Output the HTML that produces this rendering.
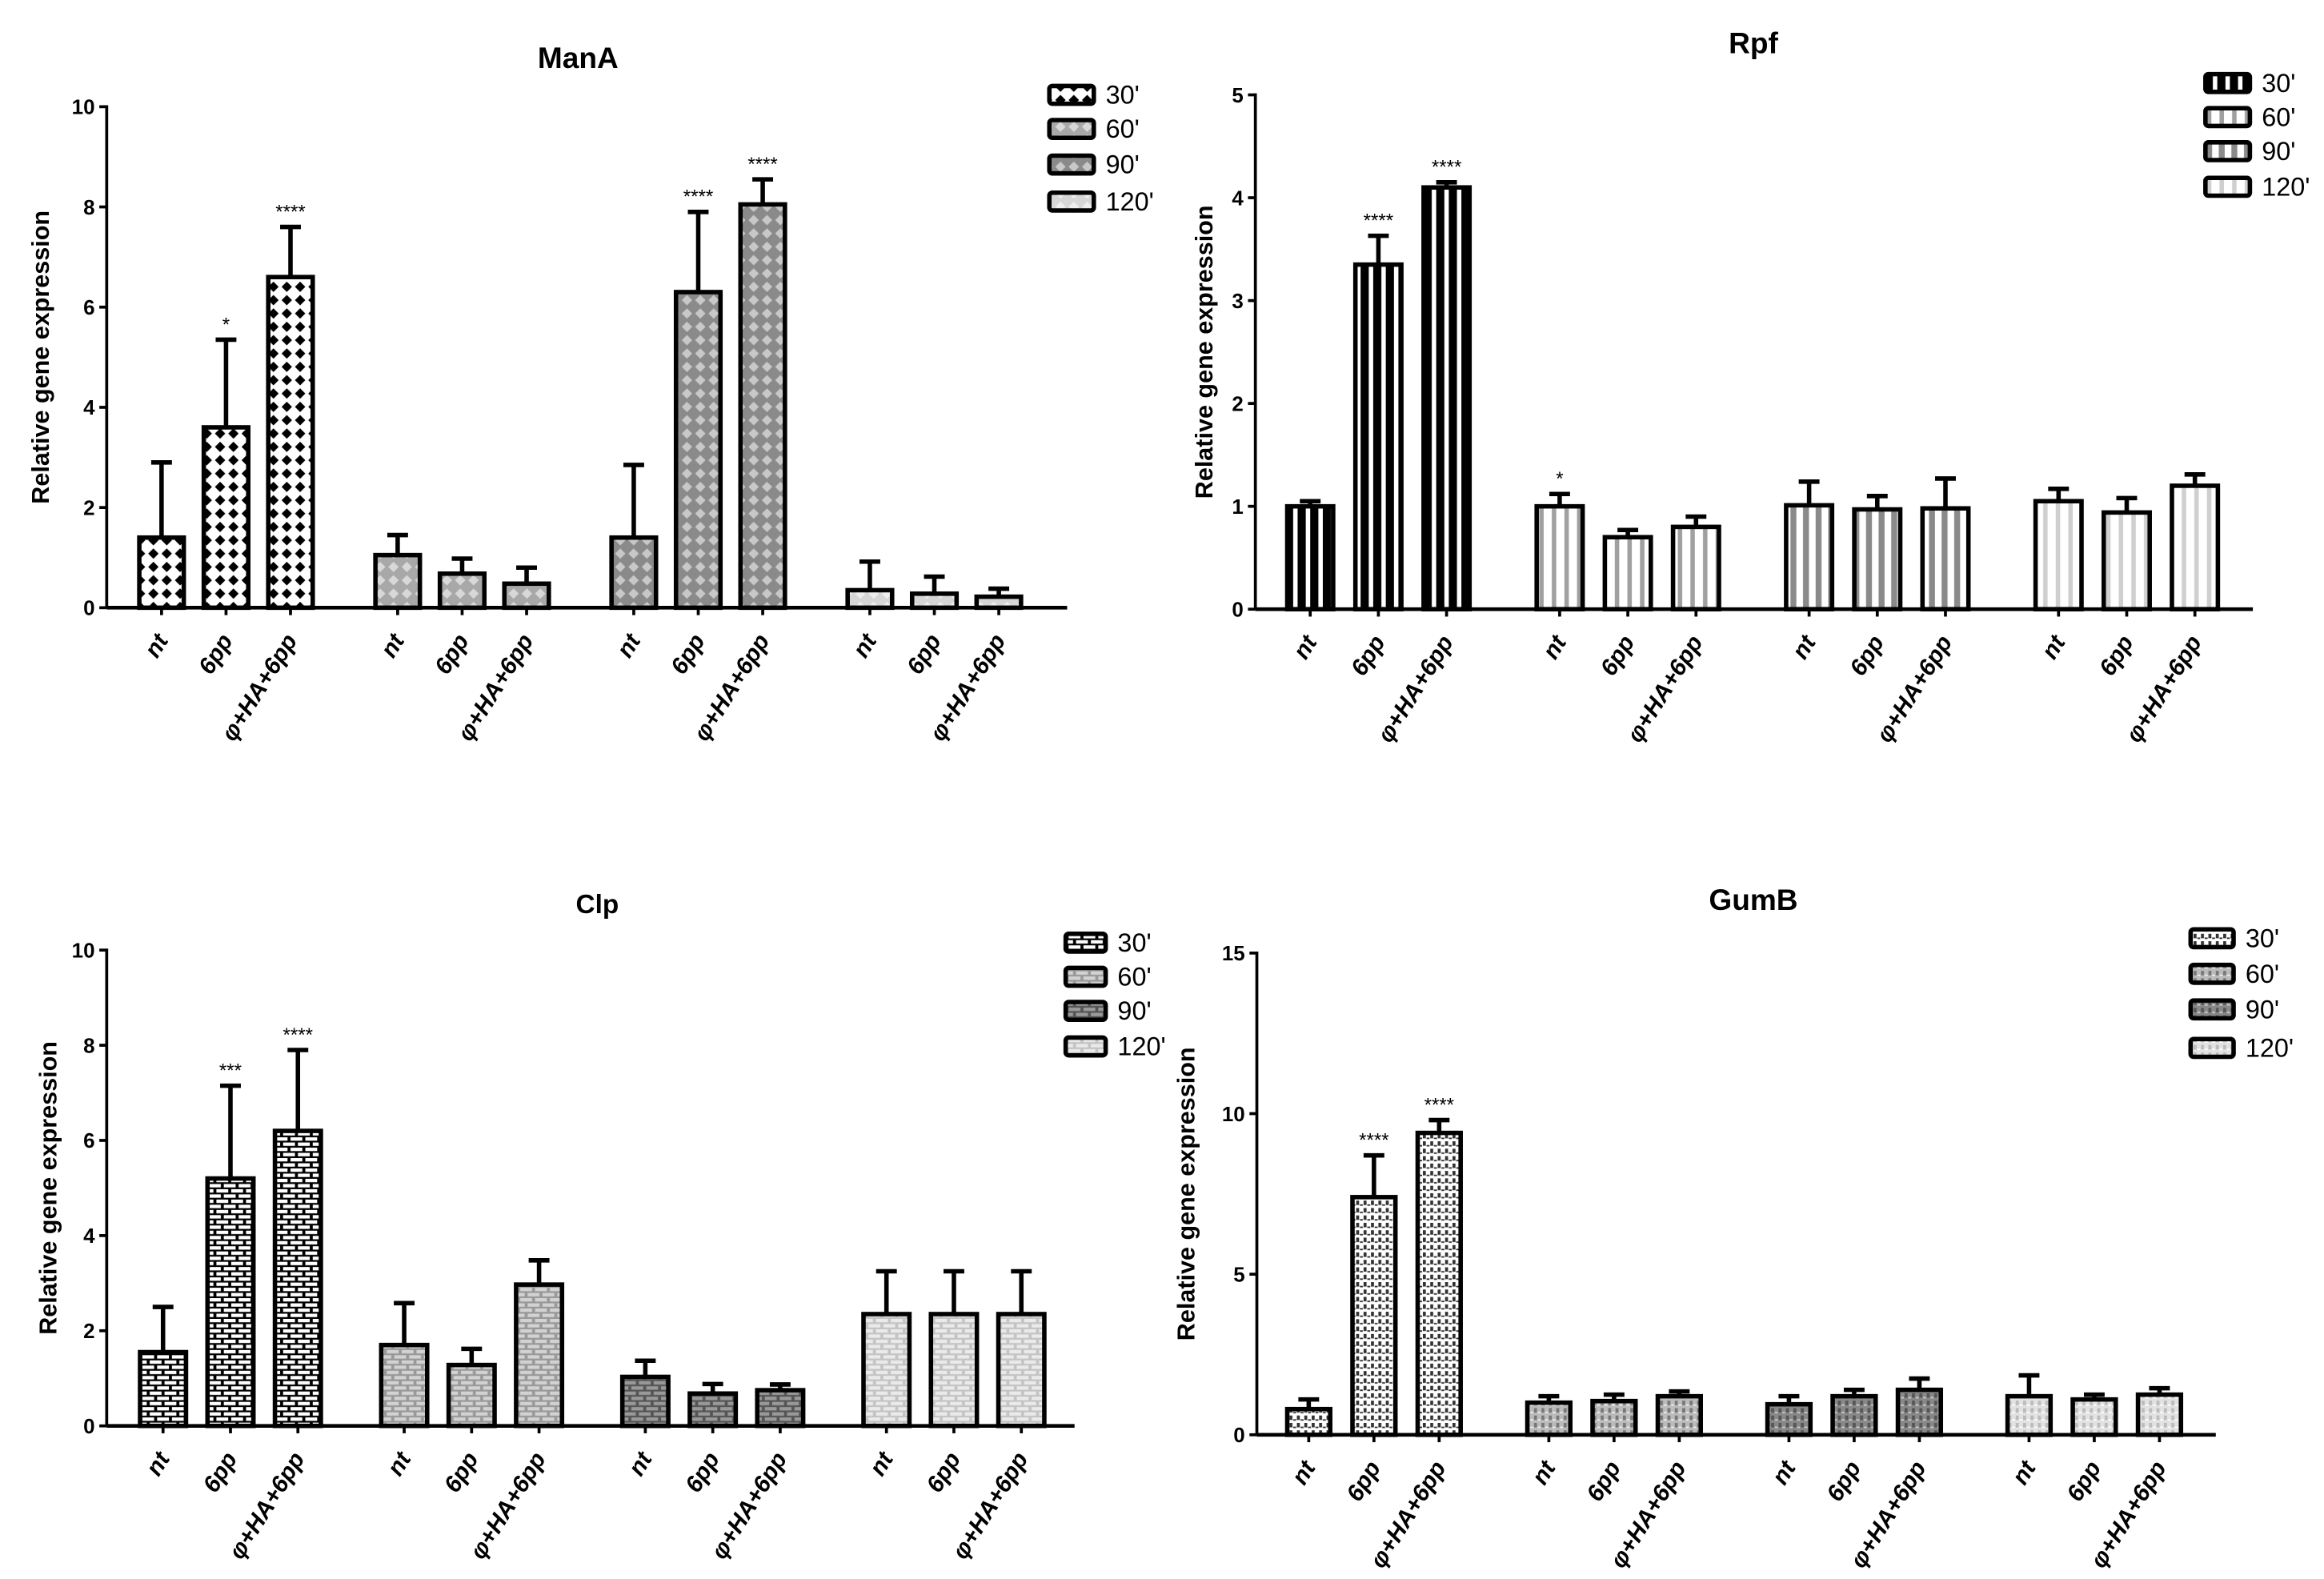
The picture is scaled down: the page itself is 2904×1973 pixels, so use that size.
<!DOCTYPE html>
<html><head><meta charset="utf-8"><style>
html,body{margin:0;padding:0;background:#fff;}
svg{display:block;}
text{font-family:"Liberation Sans",Arial,sans-serif;}
</style></head><body>
<svg id="fig" width="2904" height="1973" viewBox="0 0 1568 1065.3" preserveAspectRatio="none" xmlns="http://www.w3.org/2000/svg">
<defs>
 <pattern id="pDiaW" width="9" height="9" patternUnits="userSpaceOnUse"><rect width="9" height="9" fill="#fff"/><path d="M4.5 1 L8 4.5 L4.5 8 L1 4.5Z" fill="#000"/></pattern>
 <pattern id="pDiaL" width="9" height="9" patternUnits="userSpaceOnUse"><rect width="9" height="9" fill="#a8a8a8"/><path d="M4.5 1 L8 4.5 L4.5 8 L1 4.5Z" fill="#d8d8d8"/></pattern>
 <pattern id="pDiaM" width="9" height="9" patternUnits="userSpaceOnUse"><rect width="9" height="9" fill="#8a8a8a"/><path d="M4.5 1 L8 4.5 L4.5 8 L1 4.5Z" fill="#c8c8c8"/></pattern>
 <pattern id="pDiaX" width="9" height="9" patternUnits="userSpaceOnUse"><rect width="9" height="9" fill="#d6d6d6"/><path d="M4.5 1 L8 4.5 L4.5 8 L1 4.5Z" fill="#eee"/></pattern>
 <pattern id="pStrB" width="8.5" height="8" patternUnits="userSpaceOnUse"><rect width="8.5" height="8" fill="#000"/><rect x="5.5" width="3" height="8" fill="#fff"/></pattern>
 <pattern id="pStrL" width="8.5" height="8" patternUnits="userSpaceOnUse"><rect width="8.5" height="8" fill="#fff"/><rect x="1.5" width="3" height="8" fill="#a0a0a0"/></pattern>
 <pattern id="pStrM" width="8.5" height="8" patternUnits="userSpaceOnUse"><rect width="8.5" height="8" fill="#fff"/><rect x="1" width="4" height="8" fill="#8a8a8a"/></pattern>
 <pattern id="pStrX" width="8.5" height="8" patternUnits="userSpaceOnUse"><rect width="8.5" height="8" fill="#fff"/><rect x="1.5" width="3" height="8" fill="#cfcfcf"/></pattern>
 <pattern id="pBrW" width="10" height="7" patternUnits="userSpaceOnUse"><rect width="10" height="7" fill="#000"/><rect x="1" y="0.8" width="8" height="2.3" fill="#fff"/><rect x="-4" y="4.3" width="8" height="2.3" fill="#fff"/><rect x="6" y="4.3" width="8" height="2.3" fill="#fff"/></pattern>
 <pattern id="pBrL" width="10" height="7" patternUnits="userSpaceOnUse"><rect width="10" height="7" fill="#999"/><rect x="1" y="0.8" width="8" height="2.3" fill="#d2d2d2"/><rect x="-4" y="4.3" width="8" height="2.3" fill="#d2d2d2"/><rect x="6" y="4.3" width="8" height="2.3" fill="#d2d2d2"/></pattern>
 <pattern id="pBrM" width="10" height="7" patternUnits="userSpaceOnUse"><rect width="10" height="7" fill="#555"/><rect x="1" y="0.8" width="8" height="2.3" fill="#999"/><rect x="-4" y="4.3" width="8" height="2.3" fill="#999"/><rect x="6" y="4.3" width="8" height="2.3" fill="#999"/></pattern>
 <pattern id="pBrX" width="10" height="7" patternUnits="userSpaceOnUse"><rect width="10" height="7" fill="#c4c4c4"/><rect x="1" y="0.8" width="8" height="2.3" fill="#eaeaea"/><rect x="-4" y="4.3" width="8" height="2.3" fill="#eaeaea"/><rect x="6" y="4.3" width="8" height="2.3" fill="#eaeaea"/></pattern>
 <pattern id="pDotW" width="5" height="5" patternUnits="userSpaceOnUse"><rect width="5" height="5" fill="#fff"/><rect x="0" y="0" width="2" height="3" fill="#333"/><rect x="2.5" y="2.5" width="2" height="1" fill="#333"/></pattern>
 <pattern id="pDotL" width="5" height="5" patternUnits="userSpaceOnUse"><rect width="5" height="5" fill="#bbb"/><rect x="0" y="0" width="2" height="3" fill="#777"/><rect x="2.5" y="2.5" width="2" height="1" fill="#eee"/></pattern>
 <pattern id="pDotM" width="5" height="5" patternUnits="userSpaceOnUse"><rect width="5" height="5" fill="#888"/><rect x="0" y="0" width="2" height="3" fill="#555"/><rect x="2.5" y="2.5" width="2" height="1" fill="#ccc"/></pattern>
 <pattern id="pDotX" width="5" height="5" patternUnits="userSpaceOnUse"><rect width="5" height="5" fill="#e2e2e2"/><rect x="0" y="0" width="2" height="3" fill="#bbb"/><rect x="2.5" y="2.5" width="2" height="1" fill="#fff"/></pattern>
</defs>
</svg>
<script>
const NS="http://www.w3.org/2000/svg";
const svg=document.getElementById('fig');
const conditions=["nt","6pp","\u03c6+HA+6pp"];
const timepoints=["30'","60'","90'","120'"];

const manaValues=[1.4,3.6,6.6, 1.05,0.68,0.48, 1.4,6.3,8.05, 0.35,0.28,0.22];
const manaErrTop=[2.9,5.35,7.6, 1.45,0.98,0.8, 2.85,7.9,8.55, 0.92,0.62,0.38];
const manaSig=["","*","****", "","","", "","****","****", "","",""];
const manaTicks=[0,2,4,6,8,10];

const rpfValues=[1.0,3.35,4.1, 1.0,0.7,0.8, 1.01,0.97,0.98, 1.05,0.94,1.2];
const rpfErrTop=[1.05,3.63,4.15, 1.12,0.77,0.9, 1.24,1.1,1.27, 1.17,1.08,1.31];
const rpfSig=["","****","****", "*","","", "","","", "","",""];
const rpfTicks=[0,1,2,3,4,5];

const clpValues=[1.55,5.2,6.2, 1.7,1.28,2.97, 1.03,0.68,0.75, 2.35,2.35,2.35];
const clpErrTop=[2.5,7.15,7.9, 2.58,1.62,3.48, 1.37,0.88,0.87, 3.25,3.25,3.25];
const clpSig=["","***","****", "","","", "","","", "","",""];
const clpTicks=[0,2,4,6,8,10];

const gumbValues=[0.8,7.4,9.4, 1.0,1.05,1.2, 0.95,1.2,1.4, 1.2,1.1,1.25];
const gumbErrTop=[1.1,8.7,9.8, 1.2,1.25,1.35, 1.2,1.4,1.75, 1.85,1.25,1.45];
const gumbSig=["","****","****", "","","", "","","", "","",""];
const gumbTicks=[0,5,10,15];

function el(tag,attrs,parent,txt){const e=document.createElementNS(NS,tag);for(const k in attrs)e.setAttribute(k,attrs[k]);if(txt!==undefined)e.textContent=txt;(parent||svg).appendChild(e);return e;}

function panel(cfg){
 const g=el('g',{});
 
 
 const ymax=cfg.ticks[cfg.ticks.length-1];
 const Y=v=>cfg.y0-(v/ymax)*(cfg.y0-cfg.yTop);
 const X=i=>cfg.x1+Math.floor(i/3)*cfg.gStep+(i%3)*cfg.bStep;
 const t=el('text',{x:cfg.titleX,y:cfg.titleY,'text-anchor':'middle','font-size':cfg.titleSize||20,'font-weight':'bold'},g,cfg.title);
 
 
 const yt=el('text',{transform:`translate(${cfg.ytX},${(cfg.y0+cfg.yTop)/2}) rotate(-90)`,'text-anchor':'middle','font-size':16.5,'font-weight':'bold'},g,'Relative gene expression');
 
 
 const ya=el('line',{x1:cfg.ax,y1:cfg.yTop-1,x2:cfg.ax,y2:cfg.y0,stroke:'#000','stroke-width':2},g);
 
 
 cfg.ticks.forEach(v=>{
  el('line',{x1:cfg.ax-5,y1:Y(v),x2:cfg.ax,y2:Y(v),stroke:'#000','stroke-width':2},g);
  const tl=el('text',{x:cfg.ax-8,y:Y(v)+5,'text-anchor':'end','font-size':14,'font-weight':'bold'},g,String(v));
  
  
 });
 cfg.values.forEach((v,i)=>{
  const cx=X(i),w=cfg.bw,grp=Math.floor(i/3);
  const top=cfg.errTop[i];
  el('line',{x1:cx,y1:Y(v),x2:cx,y2:Y(top),stroke:'#000','stroke-width':3},g);
  el('line',{x1:cx-7,y1:Y(top),x2:cx+7,y2:Y(top),stroke:'#000','stroke-width':3},g);
  const r=el('rect',{x:cx-w/2,y:Y(v),width:w,height:cfg.y0-Y(v),fill:`url(#${cfg.fills[grp]})`,stroke:'#000','stroke-width':3},g);
  
  
  if(cfg.sig[i]){
   const s=el('text',{x:cx,y:Y(top)-6,'text-anchor':'middle','font-size':13},g,cfg.sig[i]);
   
   
  }
  el('line',{x1:cx,y1:cfg.y0,x2:cx,y2:cfg.y0+5,stroke:'#000','stroke-width':2},g);
  const xl=el('text',{transform:`translate(${cx+5},${cfg.y0+22}) rotate(-58)`,'text-anchor':'end','font-size':16,'font-weight':'bold','font-style':'italic'},g,conditions[i%3]);
  
  
 });
 const xa=el('line',{x1:cfg.ax,y1:cfg.y0,x2:cfg.xEnd,y2:cfg.y0,stroke:'#000','stroke-width':2.5},g);
 
 
 timepoints.forEach((tp,k)=>{
  const ly=cfg.legY[k];
  const lg=el('g',{},g);
  
  
  el('rect',{x:cfg.legX,y:ly-6,width:cfg.legW,height:12,rx:2,fill:`url(#${cfg.fills[k]})`,stroke:'#000','stroke-width':3},lg);
  el('text',{x:cfg.legX+cfg.legW+8,y:ly+6,'font-size':17.5},lg,tp);
 });
}

panel({id:'mana',title:'ManA',titleX:390,titleY:46,ytX:33,ax:72,yTop:72,y0:410,xEnd:720,x1:109,bStep:43.5,gStep:159.3,bw:30,
 values:manaValues,errTop:manaErrTop,sig:manaSig,ticks:manaTicks,fills:['pDiaW','pDiaL','pDiaM','pDiaX'],legX:708,legW:30,legY:[64,87,111,136]});
panel({id:'rpf',title:'Rpf',titleX:1183,titleY:36,ytX:818,ax:847,yTop:64,y0:411,xEnd:1520,x1:884,bStep:46,gStep:168.3,bw:31,
 values:rpfValues,errTop:rpfErrTop,sig:rpfSig,ticks:rpfTicks,fills:['pStrB','pStrL','pStrM','pStrX'],legX:1488,legW:30,legY:[56,79,102,126]});
panel({id:'clp',title:'Clp',titleX:403,titleY:616,titleSize:18,ytX:38,ax:72,yTop:641,y0:962,xEnd:725,x1:110,bStep:45.5,gStep:162.7,bw:31,
 values:clpValues,errTop:clpErrTop,sig:clpSig,ticks:clpTicks,fills:['pBrW','pBrL','pBrM','pBrX'],legX:719,legW:27,legY:[636,659,682,706]});
panel({id:'gumb',title:'GumB',titleX:1183,titleY:614,ytX:806,ax:848,yTop:643,y0:968,xEnd:1495,x1:883,bStep:44,gStep:162,bw:29,
 values:gumbValues,errTop:gumbErrTop,sig:gumbSig,ticks:gumbTicks,fills:['pDotW','pDotL','pDotM','pDotX'],legX:1478,legW:29,legY:[633,657,681,707]});
</script>
</body></html>
